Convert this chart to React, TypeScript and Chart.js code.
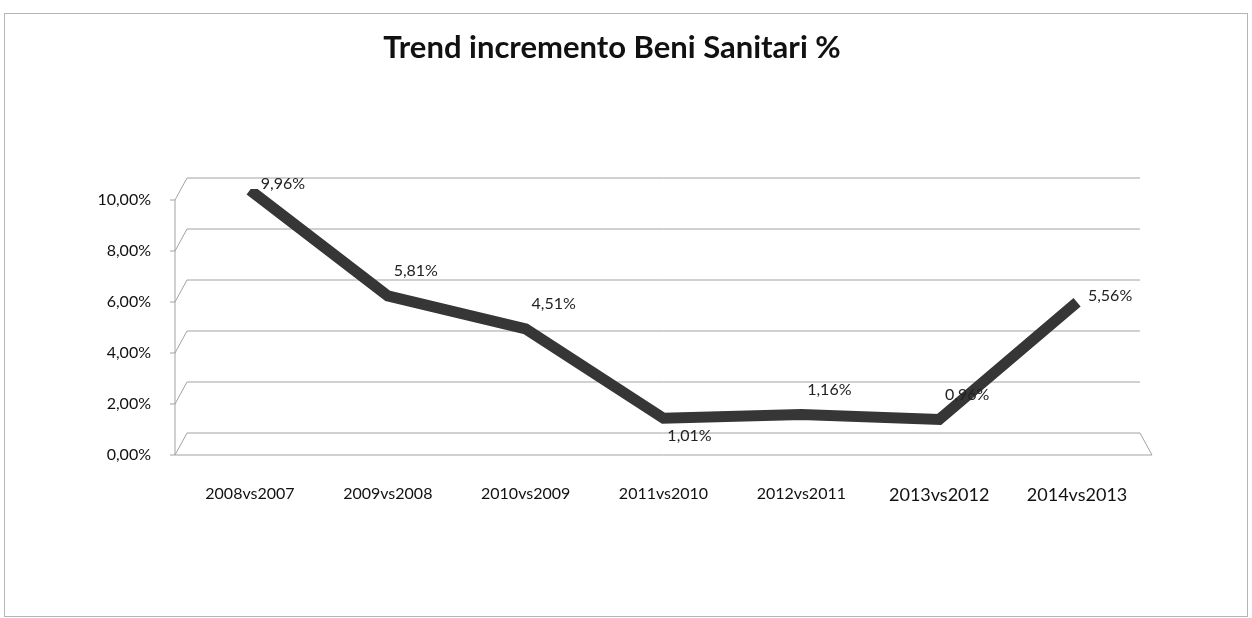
import React, { useEffect, useRef } from "react";
import { Chart, registerables } from "chart.js";

Chart.register(...registerables);

const titleText = "Trend incremento Beni Sanitari %";
const categories = [
  "2008vs2007",
  "2009vs2008",
  "2010vs2009",
  "2011vs2010",
  "2012vs2011",
  "2013vs2012",
  "2014vs2013",
];
const values = [9.96, 5.81, 4.51, 1.01, 1.16, 0.96, 5.56];
const yMin = 0;
const yMax = 10;
const yStep = 2;
const labelPlacement = ["right", "above", "above", "below", "above", "above", "right"];

const FONT = "Lato, 'Open Sans', sans-serif";
const DEPTH_X = 6;
const DEPTH_Y = 11;

const fmt = (v: number) => v.toFixed(2).replace(".", ",") + "%";

const frame3d = {
  id: "frame3d",
  beforeDatasetsDraw(chart: any) {
    const { ctx, chartArea, scales } = chart;
    const ys = scales.y;
    const { left, right } = chartArea;
    ctx.save();
    ctx.strokeStyle = "#a2a2a2";
    ctx.lineWidth = 1;
    ys.ticks.forEach((t: any) => {
      const y = ys.getPixelForValue(t.value);
      ctx.beginPath();
      ctx.moveTo(left - DEPTH_X, y + DEPTH_Y);
      ctx.lineTo(left + DEPTH_X, y - DEPTH_Y);
      ctx.lineTo(right - DEPTH_X, y - DEPTH_Y);
      ctx.stroke();
      ctx.beginPath();
      ctx.moveTo(left - DEPTH_X - 5, y + DEPTH_Y);
      ctx.lineTo(left - DEPTH_X, y + DEPTH_Y);
      ctx.stroke();
    });
    const yTop = ys.getPixelForValue(yMax);
    const y0 = ys.getPixelForValue(yMin);
    ctx.beginPath();
    ctx.moveTo(left - DEPTH_X, yTop + DEPTH_Y);
    ctx.lineTo(left - DEPTH_X, y0 + DEPTH_Y);
    ctx.lineTo(right + DEPTH_X, y0 + DEPTH_Y);
    ctx.lineTo(right - DEPTH_X, y0 - DEPTH_Y);
    ctx.stroke();
    ctx.strokeStyle = "#b5b5b5";
    ctx.strokeRect(4.5, 13.5, 1243, 603);
    ctx.restore();
  },
};

const dataLabels = {
  id: "dataLabels",
  afterDatasetsDraw(chart: any) {
    const { ctx } = chart;
    const meta = chart.getDatasetMeta(0);
    ctx.save();
    ctx.font = `16px ${FONT}`;
    ctx.fillStyle = "#222";
    ctx.textAlign = "center";
    ctx.textBaseline = "middle";
    meta.data.forEach((pt: any, i: number) => {
      const place = labelPlacement[i];
      let dx = 28;
      let dy = -25;
      if (place === "below") {
        dx = 26;
        dy = 18;
      } else if (place === "right") {
        dx = 33;
        dy = -6;
      }
      ctx.fillText(fmt(values[i]), pt.x + dx, pt.y + dy);
    });
    ctx.restore();
  },
};

export default function App() {
  const ref = useRef<HTMLCanvasElement | null>(null);

  useEffect(() => {
    document.body.style.margin = "0";
    const canvas = ref.current;
    if (!canvas) return;
    const chart = new Chart(canvas, {
      type: "line",
      data: {
        labels: categories,
        datasets: [
          {
            label: "Beni Sanitari",
            data: values,
            borderColor: "#363636",
            borderWidth: 11,
            pointRadius: 0,
            tension: 0,
            borderJoinStyle: "miter",
            fill: false,
          },
        ],
      },
      options: {
        responsive: false,
        animation: false,
        devicePixelRatio: 1,
        layout: { padding: { top: 0, left: 78, right: 106, bottom: 0 } },
        plugins: {
          legend: { display: false },
          tooltip: { enabled: false },
          title: {
            display: true,
            text: titleText,
            color: "#111",
            font: { family: FONT, size: 31, weight: "bold" },
            padding: { top: 29.4, bottom: 122.4 },
          },
        },
        scales: {
          x: {
            type: "category",
            offset: true,
            grid: { display: false, drawTicks: false },
            border: { display: false },
            ticks: {
              color: "#111",
              padding: 40,
              maxRotation: 0,
              autoSkip: false,
              font: (c: any) => ({ family: FONT, size: c.index >= 5 ? 18 : 16 }),
            },
            afterFit: (s: any) => {
              s.height = 174;
            },
          },
          y: {
            min: yMin,
            max: yMax,
            grid: { display: false, drawTicks: false },
            border: { display: false },
            ticks: {
              stepSize: yStep,
              color: "#111",
              padding: 30,
              labelOffset: DEPTH_Y,
              font: { family: FONT, size: 16 },
              callback: (v: any) => fmt(Number(v)),
            },
            afterFit: (s: any) => {
              s.width = 103;
            },
          },
        },
      },
      plugins: [frame3d, dataLabels],
    });
    return () => chart.destroy();
  }, []);

  return <canvas ref={ref} width={1252} height={618} style={{ display: "block" }} />;
}
